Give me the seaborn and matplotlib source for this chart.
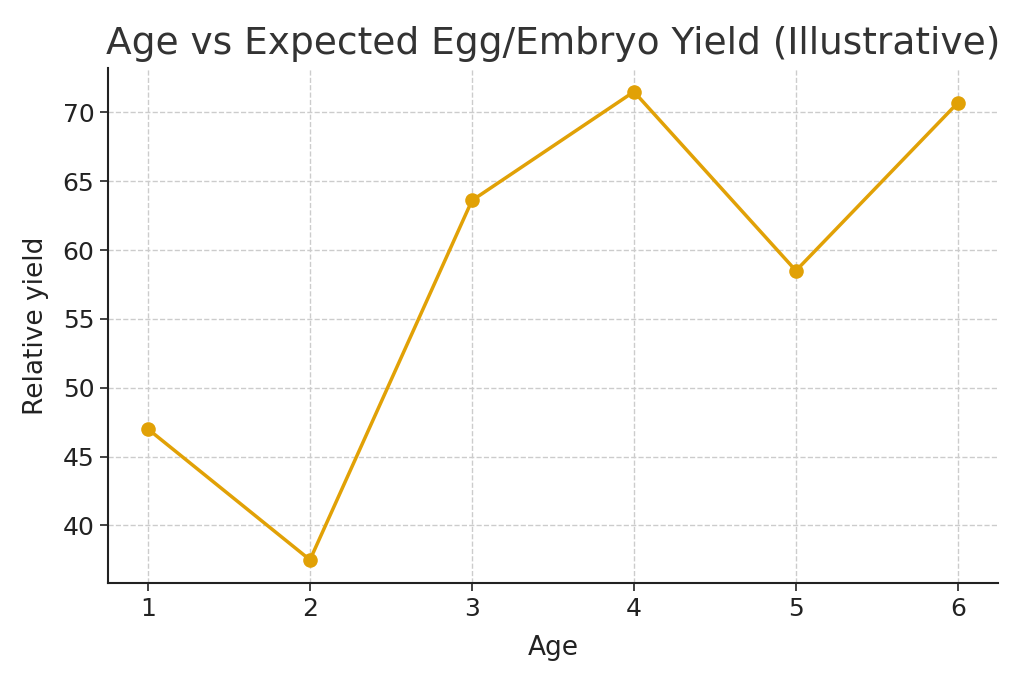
import seaborn as sns
import pandas as pd
import matplotlib.pyplot as plt

ages = [1, 2, 3, 4, 5, 6]
yields = [47.0, 37.5, 63.6, 71.5, 58.5, 70.7]

df = pd.DataFrame({"Age": ages, "Relative yield": yields})

sns.set_style("whitegrid", {"grid.linestyle": "--", "grid.color": "#cccccc",
                            "axes.edgecolor": "#222222"})
plt.rcParams['font.family'] = ['DejaVu Sans']

fig = plt.figure(figsize=(10.24, 6.83), dpi=100)
ax = fig.add_axes([0.105, 0.146, 0.87, 0.754])
sns.lineplot(data=df, x="Age", y="Relative yield", marker="o", color="#E1A106",
             linewidth=2.5, markersize=10.5, markeredgewidth=0, ax=ax)
sns.despine(ax=ax)
ax.spines['left'].set_linewidth(1.5)
ax.spines['bottom'].set_linewidth(1.5)
ax.tick_params(axis='both', which='both', length=6, width=1.2, labelsize=18,
               left=True, bottom=True, colors="#222222")
ax.tick_params(axis='x', pad=4)
ax.set_xlabel("Age", fontsize=19, color="#222222", labelpad=10)
ax.set_ylabel("Relative yield", fontsize=19, color="#222222", labelpad=10)
ax.set_title("Age vs Expected Egg/Embryo Yield (Illustrative)", fontsize=27,
             color="#333333", pad=10)
ax.grid(True, linestyle="--", color="#cccccc", linewidth=1)

fig.savefig("out.png", dpi=100)
